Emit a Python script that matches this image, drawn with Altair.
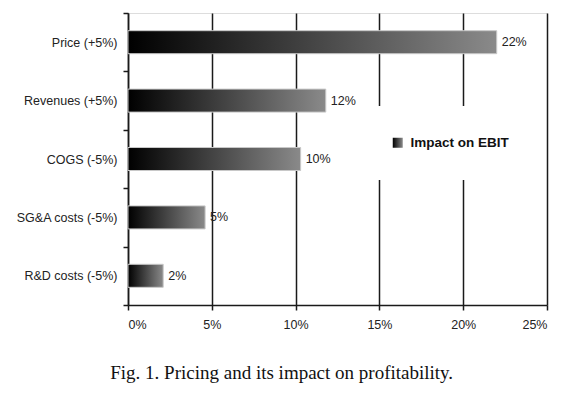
import altair as alt
import pandas as pd

categories = ["Price (+5%)", "Revenues (+5%)", "COGS (-5%)", "SG&A costs (-5%)", "R&D costs (-5%)"]
values = [0.22, 0.118, 0.103, 0.046, 0.021]
labels = ["22%", "12%", "10%", "5%", "2%"]
series = "Impact on EBIT"
x_ticks = [0, 0.05, 0.10, 0.15, 0.20, 0.25]
caption = "Fig. 1. Pricing and its impact on profitability."

df = pd.DataFrame({"cat": categories, "val": values, "lab": labels, "series": [series] * len(categories)})

SANS = "Liberation Sans"
grad = {
    "gradient": "linear", "x1": 0, "y1": 0, "x2": 1, "y2": 0,
    "stops": [{"offset": 0, "color": "#000000"}, {"offset": 1, "color": "#8a8a8a"}],
}
grad_expr = ("{gradient: 'linear', x1: 0, y1: 0, x2: 1, y2: 0, "
             "stops: [{offset: 0, color: '#000000'}, {offset: 1, color: '#8a8a8a'}]}")

x_enc = alt.X("val:Q", scale=alt.Scale(domain=[0, 0.25], nice=False),
              axis=alt.Axis(values=x_ticks, format=".0%", title=None, grid=True,
                            gridColor="#1a1a1a", gridWidth=1.5, domainColor="#1a1a1a",
                            domainWidth=1.5, tickColor="#1a1a1a", tickWidth=1.5, tickSize=5,
                            labelFont=SANS, labelFontSize=12.5, labelColor="#222",
                            labelPadding=8))
y_enc = alt.Y("cat:N", sort=categories,
              scale=alt.Scale(paddingInner=0, paddingOuter=0),
              axis=alt.Axis(title=None, grid=False, tickBand="extent", domainColor="#1a1a1a",
                            domainWidth=1.5, tickColor="#1a1a1a", tickWidth=1.5, tickSize=5,
                            labelFont=SANS, labelFontSize=12.5, labelColor="#222",
                            labelPadding=6))

bars = alt.Chart(df).mark_bar(size=23, fill=grad, strokeWidth=1).encode(
    x=x_enc, y=y_enc,
    stroke=alt.Stroke("series:N", scale=alt.Scale(range=["#c8c8c8"]),
                      legend=alt.Legend(title=None, orient="none", legendX=233, legendY=93,
                                        padding=30, fillColor="white", symbolType="square",
                                        symbolSize=100, labelFont=SANS, labelFontSize=13.5,
                                        labelFontWeight="bold", labelColor="#111", labelOffset=6,
                                        symbolFillColor=alt.ExprRef(grad_expr),
                                        symbolStrokeWidth=0)),
)

text = alt.Chart(df).mark_text(align="left", baseline="middle", dx=5, font=SANS,
                               fontSize=12.5, color="#222").encode(
    x="val:Q", y=alt.Y("cat:N", sort=categories), text="lab:N")

chart = (bars + text).properties(
    width=419, height=292,
    autosize=alt.AutoSizeParams(type="none"),
    padding={"left": 120, "top": 5, "right": 27, "bottom": 85},
    title=alt.TitleParams(caption, orient="bottom", frame="bounds", anchor="middle",
                          font="Liberation Serif", fontSize=19, fontWeight="normal",
                          color="#111", offset=33),
).configure_view(stroke="#1a1a1a", strokeWidth=1.5).configure(background="white")

chart.save("out.html", embed_options={"renderer": "svg", "actions": False})
